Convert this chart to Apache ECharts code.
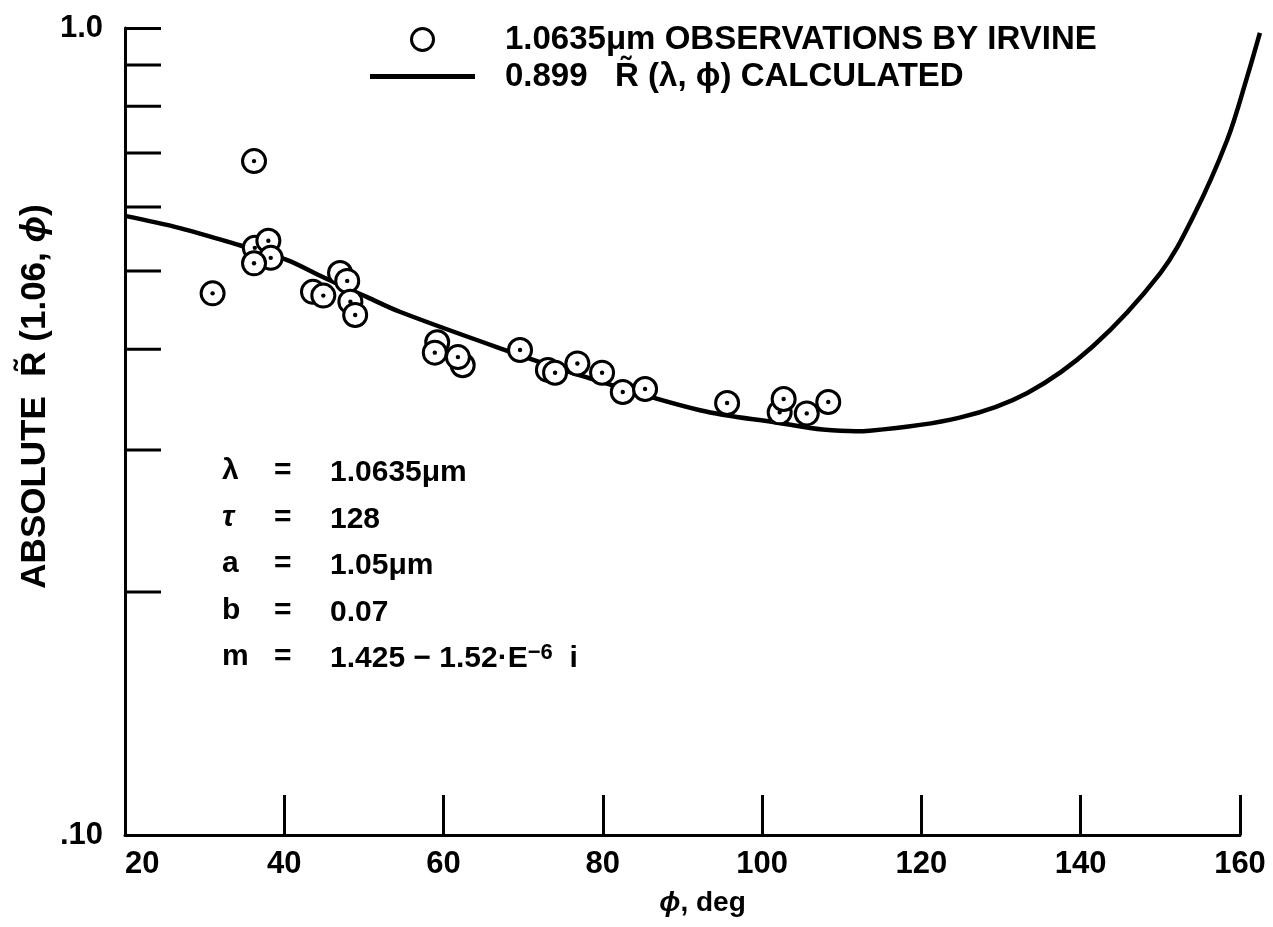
<!DOCTYPE html>
<html>
<head>
<meta charset="utf-8">
<title>Absolute R vs phi</title>
<script src="https://cdn.jsdelivr.net/npm/echarts@6/dist/echarts.min.js"></script>
<style>
  html, body { margin: 0; padding: 0; background: #fff; }
  #chart { width: 1273px; height: 927px; }
</style>
</head>
<body>
<div id="chart"></div>
<script>
// x axis (phi, deg)
var phiMin = 20, phiMax = 160, phiStep = 20;
// log y axis: extra ticks between .10 and 1.0
var yMinorTicks = [0.2, 0.3, 0.4, 0.5, 0.6, 0.7, 0.8, 0.9];

// 1.0635um observations by Irvine
var obsPhi = [31.0, 36.2, 36.3, 38.0, 38.3, 36.2, 43.6, 44.9, 47.0, 47.9, 48.3, 48.9,
              59.2, 58.9, 62.4, 61.8, 69.6, 73.1, 74.0, 76.8, 79.9, 82.5, 85.3,
              95.6, 102.2, 102.7, 105.6, 108.3];
var obsR   = [0.469, 0.684, 0.534, 0.545, 0.519, 0.511, 0.471, 0.466, 0.497, 0.486, 0.458, 0.441,
              0.408, 0.396, 0.382, 0.391, 0.399, 0.377, 0.374, 0.384, 0.374, 0.354, 0.357,
              0.343, 0.334, 0.347, 0.333, 0.344];

// 0.899 R(lambda, phi) calculated
var calcPhi = [20, 26.9, 34.4, 40.3, 44.9, 50.4, 54.5, 67.1, 78.0, 92.2, 102.2, 107.6,
               113.5, 124.8, 133.3, 141.5, 150.0, 154.1, 158.4, 160.9, 162.5];
var calcR   = [0.585, 0.565, 0.538, 0.516, 0.491, 0.464, 0.445, 0.401, 0.369, 0.336, 0.324, 0.318,
               0.317, 0.329, 0.353, 0.403, 0.497, 0.583, 0.727, 0.870, 0.986];

var obsName = '1.0635\u03bcm OBSERVATIONS BY IRVINE';
var calcName = '0.899   R\u0303 (\u03bb, \u03d5) CALCULATED';

// parameter block
var paramSym = ['\u03bb', '\u03c4', 'a', 'b', 'm'];
var paramVal = ['1.0635\u03bcm', '128', '1.05\u03bcm', '0.07',
                '1.425 \u2212 1.52\u00b7E{sup|\u22126}  i'];

var FONT = '"Liberation Sans", Arial, Helvetica, sans-serif';

var chart = echarts.init(document.getElementById('chart'));

var graphics = [];
paramSym.forEach(function (s, i) {
    var y = 473 + i * 46.5;
    graphics.push({
        type: 'text', left: 222, top: y - 17,
        style: { text: s, fontFamily: FONT, fontSize: 30, fontWeight: 'bold',
                 fontStyle: s === '\u03c4' ? 'italic' : 'normal', fill: '#000' }
    });
    graphics.push({
        type: 'text', left: 274, top: y - 17,
        style: { text: '=', fontFamily: FONT, fontSize: 30, fontWeight: 'bold', fill: '#000' }
    });
    graphics.push({
        type: 'text', left: 330, top: y - 17,
        style: {
            text: paramVal[i], fontFamily: FONT, fontSize: 30, fontWeight: 'bold', fill: '#000',
            lineHeight: 34,
            rich: { sup: { fontFamily: FONT, fontSize: 22, fontWeight: 'bold', verticalAlign: 'top', lineHeight: 30 } }
        }
    });
});

var option = {
    backgroundColor: '#fff',
    animation: false,
    grid: { left: 125, right: 33, top: 28, bottom: 92, containLabel: false },
    legend: {
        orient: 'vertical',
        left: 365, top: 18,
        itemWidth: 105, itemHeight: 22, itemGap: 4,
        symbolKeepAspect: true,
        selectedMode: false,
        data: [
            { name: obsName, icon: 'circle',
              itemStyle: { color: '#fff', borderColor: '#000', borderWidth: 3 } },
            { name: calcName, icon: 'path://M0,0 L105,0 L105,5 L0,5 Z',
              itemStyle: { color: '#000', borderWidth: 0 } }
        ],
        textStyle: { fontFamily: FONT, fontSize: 33, fontWeight: 'bold', color: '#000',
                     lineHeight: 26, padding: [0, 0, 0, 25] }
    },
    xAxis: {
        type: 'value',
        min: phiMin, max: phiMax, interval: phiStep,
        name: '{i|\u03d5}, deg',
        nameLocation: 'middle', nameGap: 54,
        nameMoveOverlap: false,
        nameTextStyle: { fontFamily: FONT, fontSize: 28, fontWeight: 'bold', color: '#000',
                         padding: [0, 0, 0, 40],
                         rich: { i: { fontFamily: FONT, fontSize: 28, fontWeight: 'bold', fontStyle: 'italic' } } },
        axisLine: { lineStyle: { color: '#000', width: 3 } },
        axisTick: { inside: true, length: 40, lineStyle: { color: '#000', width: 3 } },
        axisLabel: { fontFamily: FONT, fontSize: 31, fontWeight: 'bold', color: '#000', margin: 14,
                     alignMinLabel: 'left' },
        splitLine: { show: false }
    },
    yAxis: {
        type: 'log', logBase: 10,
        min: 0.1, max: 1,
        name: 'ABSOLUTE  R\u0303 (1.06, {i|\u03d5})',
        nameLocation: 'middle', nameGap: 72, nameRotate: 90,
        nameMoveOverlap: false,
        nameTextStyle: { fontFamily: FONT, fontSize: 35, fontWeight: 'bold', color: '#000',
                         padding: [0, 0, 0, 70],
                         rich: { i: { fontFamily: FONT, fontSize: 35, fontWeight: 'bold', fontStyle: 'italic' } } },
        axisLine: { lineStyle: { color: '#000', width: 3 } },
        axisTick: { inside: true, length: 36, lineStyle: { color: '#000', width: 3 } },
        axisLabel: {
            fontFamily: FONT, fontSize: 31, fontWeight: 'bold', color: '#000', margin: 22,
            padding: [0, 0, 12, 0],
            formatter: function (v) { return Math.abs(v - 1) < 1e-6 ? '1.0' : '.10'; }
        },
        splitLine: { show: false }
    },
    graphic: graphics,
    series: [
        {
            // short inside ticks at .2 ... .9 on the log axis
            type: 'custom',
            name: 'minorTicks',
            silent: true,
            data: yMinorTicks.map(function (v) { return [phiMin, v]; }),
            renderItem: function (params, api) {
                var p = api.coord([api.value(0), api.value(1)]);
                return {
                    type: 'line',
                    shape: { x1: p[0], y1: p[1], x2: p[0] + 36, y2: p[1] },
                    style: { stroke: '#000', lineWidth: 3 }
                };
            },
            z: 1
        },
        {
            // calculated curve, runs a little past 160 like the original
            type: 'custom',
            name: calcName,
            silent: true,
            itemStyle: { color: '#000' },
            data: calcPhi.map(function (x, i) { return [x, calcR[i]]; }),
            renderItem: function (params, api) {
                if (params.dataIndex !== 0) return null;
                var pts = calcPhi.map(function (x, i) { return api.coord([x, calcR[i]]); });
                return {
                    type: 'polyline',
                    shape: { points: pts, smooth: 0.35 },
                    style: { stroke: '#000', lineWidth: 4.5, fill: null }
                };
            },
            z: 2
        },
        {
            type: 'custom',
            name: obsName,
            silent: true,
            itemStyle: { color: '#000' },
            data: obsPhi.map(function (x, i) { return [x, obsR[i]]; }),
            renderItem: function (params, api) {
                var p = api.coord([api.value(0), api.value(1)]);
                return {
                    type: 'group',
                    children: [
                        { type: 'circle', shape: { cx: p[0], cy: p[1], r: 11.5 },
                          style: { fill: '#fff', stroke: '#000', lineWidth: 3 } },
                        { type: 'circle', shape: { cx: p[0], cy: p[1], r: 2.2 },
                          style: { fill: '#000' } }
                    ]
                };
            },
            z: 3
        }
    ]
};

chart.setOption(option);
</script>
</body>
</html>
